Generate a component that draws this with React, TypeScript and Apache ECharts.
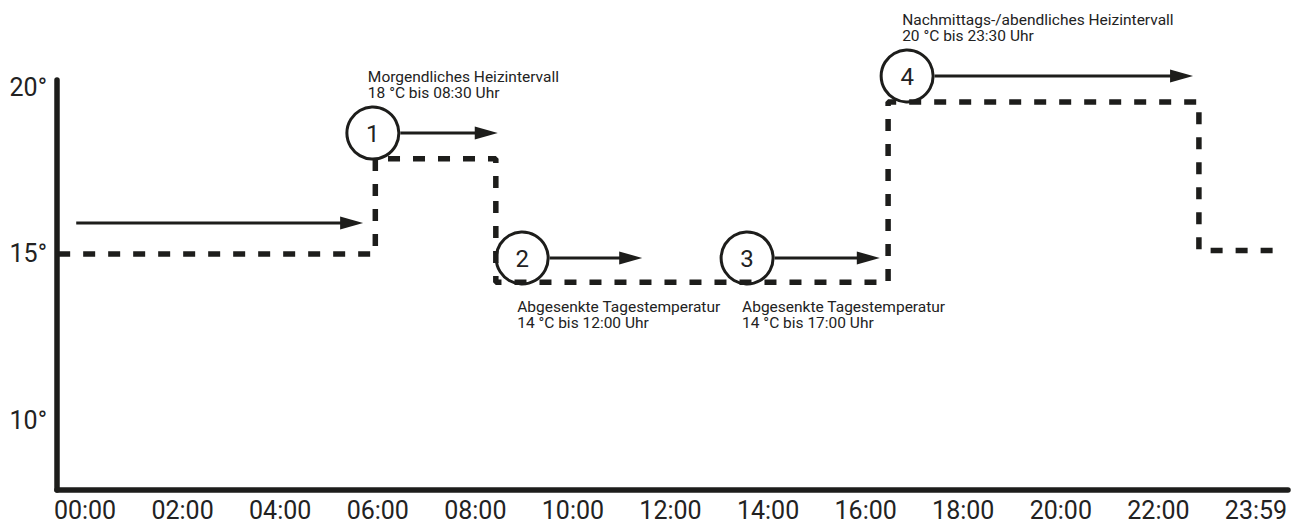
import React, { useEffect, useRef } from "react";
import * as echarts from "echarts";

// ---- data ----
const xTickHours = [0, 2, 4, 6, 8, 10, 12, 14, 16, 18, 20, 22, 24];
const xTickLabels = ["00:00", "02:00", "04:00", "06:00", "08:00", "10:00", "12:00", "14:00", "16:00", "18:00", "20:00", "22:00", "23:59"];
const yTickValues = [10, 15, 20];

// step profile (hour, °C)
const scheduleHours = [-0.55, 5.95, 8.42, 16.46, 22.83, 24.5];
const scheduleTemps = [15, 17.85, 14.15, 19.55, 15.1, 15.1];

// numbered markers
const markerNumbers = ["1", "2", "3", "4"];
const markerHours = [5.9, 8.96, 13.57, 16.85];
const markerTemps = [18.62, 14.88, 14.88, 20.33];
const arrowEndHours = [8.46, 11.42, 16.29, 22.71];
const noteTitles = [
  "Morgendliches Heizintervall",
  "Abgesenkte Tagestemperatur",
  "Abgesenkte Tagestemperatur",
  "Nachmittags-/abendliches Heizintervall",
];
const noteDetails = [
  "18 °C bis 08:30 Uhr",
  "14 °C bis 12:00 Uhr",
  "14 °C bis 17:00 Uhr",
  "20 °C bis 23:30 Uhr",
];
const notePlacement = ["above", "below", "below", "above"];

// leading arrow
const leadArrowHours = [-0.18, 5.7];
const leadArrowTemp = 15.93;

const INK = "#1d1d1b";
const TEXT = "#222222";
const FONT = "Roboto";

function arrowParts(x1: number, x2: number, y: number) {
  const headLen = 23;
  const headHalf = 6.5;
  return [
    {
      type: "line",
      shape: { x1, y1: y, x2: x2 - headLen + 2, y2: y },
      style: { stroke: INK, lineWidth: 3 },
    },
    {
      type: "polygon",
      shape: { points: [[x2, y], [x2 - headLen, y - headHalf], [x2 - headLen, y + headHalf]] },
      style: { fill: INK },
    },
  ];
}

export default function App() {
  const ref = useRef<HTMLDivElement>(null);

  useEffect(() => {
    if (!ref.current) return;
    const chart = echarts.init(ref.current, undefined, { renderer: "svg" });

    const scheduleData = scheduleHours.map((h, i) => [h, scheduleTemps[i]]);
    const markerData = markerHours.map((h, i) => [h, markerTemps[i], arrowEndHours[i]]);

    const option: any = {
      animation: false,
      backgroundColor: "#ffffff",
      grid: { left: 57, right: 6, top: 80, bottom: 34, containLabel: false },
      xAxis: {
        type: "value",
        min: -0.574,
        max: 24.656,
        axisLine: { show: true, onZero: false, lineStyle: { color: INK, width: 5.5 } },
        axisTick: { show: false },
        splitLine: { show: false },
        axisLabel: {
          customValues: xTickHours,
          formatter: (v: number) => {
            const idx = xTickHours.indexOf(Math.round(v));
            return idx >= 0 ? xTickLabels[idx] : "";
          },
          color: TEXT,
          fontFamily: FONT,
          fontSize: 25,
          lineHeight: 22,
          margin: 9,
        },
      },
      yAxis: {
        type: "value",
        min: 7.93,
        max: 20.21,
        axisLine: { show: true, onZero: false, lineStyle: { color: INK, width: 5.5 } },
        axisTick: { show: false },
        splitLine: { show: false },
        axisLabel: {
          customValues: yTickValues,
          formatter: (v: number) => `${v}°`,
          color: TEXT,
          fontFamily: FONT,
          fontSize: 25,
          margin: 10,
        },
      },
      series: [
        {
          type: "custom",
          z: 2,
          clip: false,
          data: markerData,
          encode: { x: [0, 2], y: 1 },
          renderItem: (params: any, api: any) => {
            const i = params.dataIndex;
            const c = api.coord([api.value(0), api.value(1)]);
            const e = api.coord([api.value(2), api.value(1)]);
            const cx = c[0];
            const cy = c[1];
            const r = 26;
            const above = notePlacement[i] === "above";
            const ty = above ? cy - 64 : cy + 41;
            return {
              type: "group",
              children: [
                {
                  type: "circle",
                  shape: { cx, cy, r },
                  style: { fill: "none", stroke: INK, lineWidth: 3 },
                },
                {
                  type: "text",
                  x: cx,
                  y: cy + 1,
                  style: {
                    text: markerNumbers[i],
                    fill: TEXT,
                    fontFamily: FONT,
                    fontSize: 24,
                    align: "center",
                    verticalAlign: "middle",
                  },
                },
                ...arrowParts(cx + r + 1.5, e[0], cy),
                {
                  type: "text",
                  x: cx - 5,
                  y: ty,
                  style: {
                    text: noteTitles[i] + "\n" + noteDetails[i],
                    fill: TEXT,
                    fontFamily: FONT,
                    fontSize: 15.5,
                    lineHeight: 16,
                    align: "left",
                    verticalAlign: "top",
                  },
                },
              ],
            };
          },
        },
        {
          type: "custom",
          z: 2,
          clip: false,
          data: [[leadArrowHours[0], leadArrowTemp, leadArrowHours[1]]],
          encode: { x: [0, 2], y: 1 },
          renderItem: (params: any, api: any) => {
            const s = api.coord([api.value(0), api.value(1)]);
            const e = api.coord([api.value(2), api.value(1)]);
            return { type: "group", children: arrowParts(s[0], e[0], s[1]) };
          },
        },
        {
          type: "line",
          z: 3,
          step: "end",
          data: scheduleData,
          showSymbol: false,
          symbol: "none",
          clip: false,
          lineStyle: { color: INK, width: 5.5, type: [12, 13] },
        },
      ],
    };

    chart.setOption(option);
    return () => chart.dispose();
  }, []);

  return (
    <div
      ref={ref}
      style={{ position: "fixed", left: 0, top: 0, width: 1294, height: 524, background: "#fff" }}
    />
  );
}
